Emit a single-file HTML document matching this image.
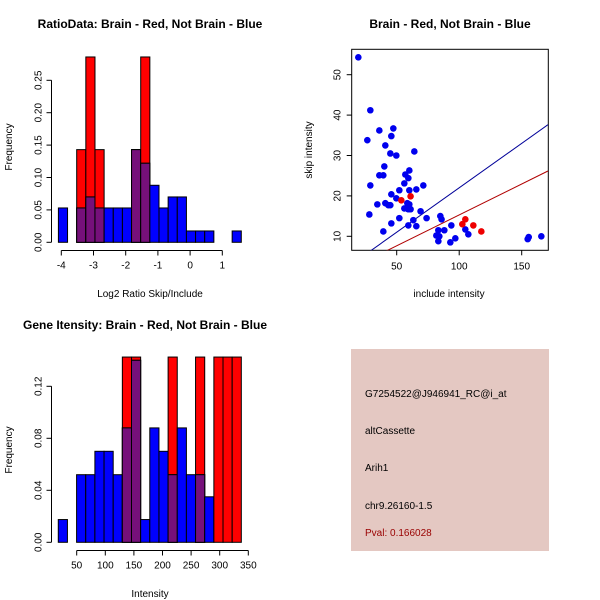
<!DOCTYPE html>
<html><head><meta charset="utf-8"><style>
body{margin:0;background:#fff;}
svg{display:block;font-family:"Liberation Sans",sans-serif;}
</style></head><body>
<svg id="s" width="600" height="600" xmlns="http://www.w3.org/2000/svg">
<rect width="600" height="600" fill="#fff"/>
<text x="150" y="28" font-size="12" font-weight="bold" text-anchor="middle">RatioData: Brain - Red, Not Brain - Blue</text>
<text x="450" y="28" font-size="12" font-weight="bold" text-anchor="middle">Brain - Red, Not Brain - Blue</text>
<text x="145" y="329" font-size="12" font-weight="bold" text-anchor="middle">Gene Itensity: Brain - Red, Not Brain - Blue</text>
<text x="150" y="297" font-size="10" text-anchor="middle">Log2 Ratio Skip/Include</text>
<text x="12" y="147" font-size="10" text-anchor="middle" transform="rotate(-90 12 147)">Frequency</text>
<text x="150" y="597" font-size="10" text-anchor="middle">Intensity</text>
<text x="12" y="450" font-size="10" text-anchor="middle" transform="rotate(-90 12 450)">Frequency</text>
<text x="449" y="297" font-size="10" text-anchor="middle">include intensity</text>
<text x="312" y="150" font-size="10" text-anchor="middle" transform="rotate(-90 312 150)">skip intensity</text>
<g>
<rect x="351" y="349" width="198" height="202" fill="#e4c8c2"/>
<text x="365" y="397" font-size="10">G7254522@J946941_RC@i_at</text>
<text x="365" y="434" font-size="10">altCassette</text>
<text x="365" y="471" font-size="10">Arih1</text>
<text x="365" y="509" font-size="10">chr9.26160-1.5</text>
<text x="365" y="536" font-size="10" fill="#990000">Pval: 0.166028</text>
</g>
</svg>
<script>
// Ratio histogram data
const ratioStart = -4.09, ratioWidth = 0.284;
const ratioBlue = [0.053,0,0.053,0.07,0.053,0.053,0.053,0.053,0.143,0.122,0.088,0.053,0.07,0.07,0.0175,0.0175,0.0175,0,0,0.0175];
const ratioRed  = [0,0,0.143,0.286,0.143,0,0,0,0.143,0.286,0,0,0,0,0,0,0,0,0,0];
const ratioXTicks = [-4,-3,-2,-1,0,1];
const ratioYTicks = ["0.00","0.05","0.10","0.15","0.20","0.25"];
// Intensity histogram data
const intStart = 17.8, intWidth = 16;
const intBlue = [0.0175,0,0.052,0.052,0.07,0.07,0.052,0.088,0.14,0.0175,0.088,0.07,0.052,0.088,0.052,0.052,0.035,0,0,0];
const intRed  = [0,0,0,0,0,0,0,0.1425,0.1425,0,0,0,0.1425,0,0,0.1425,0,0.1425,0.1425,0.1425];
const intXTicks = [50,100,150,200,250,300,350];
const intYTicks = ["0.00","0.04","0.08","0.12"];
// Scatter data
const blueX = [19.3,28.9,26.5,36.1,47.3,45.7,40.9,44.9,49.7,64.1,40.1,36.1,39.3,28.9,45.7,34.5,40.9,43.3,44.9,28.1,39.3,45.7,49.7,52.1,52.1,56.1,56.9,59.3,60.1,60.1,65.7,71.3,56.1,58.5,60.1,59.3,61.1,69.1,73.9,63.3,59.3,65.7,84.9,85.9,81.7,83.3,84.1,83.3,88.1,93.7,92.9,96.9,104.9,107.3,154.8,155.6,165.7];
const blueY = [54.3,41.2,33.8,36.2,36.7,34.8,32.5,30.5,30.0,31.0,27.3,25.1,25.1,22.6,20.4,17.9,18.2,17.7,17.7,15.4,11.2,13.2,19.4,21.4,14.5,23.1,25.3,24.4,26.3,21.4,21.6,22.6,16.9,18.2,17.9,16.7,16.7,16.2,14.5,14.0,12.7,12.5,15.0,14.2,10.2,11.5,10.0,8.8,11.5,12.7,8.5,9.5,11.7,10.5,9.3,9.8,10.0];
const redX = [53.7,61.1,104.9,102.5,111.3,117.7];
const redY = [18.9,19.9,14.2,13.0,12.7,11.2];
const lineSlopes = [0.22,0.153];
const scatXTicks = [50,100,150];
const scatYTicks = [10,20,30,40,50];

const NS = "http://www.w3.org/2000/svg";
const svg = document.getElementById('s');
function mk(tag, attrs, parent){const e=document.createElementNS(NS,tag);for(const k in attrs)e.setAttribute(k,attrs[k]);(parent||svg).appendChild(e);return e;}
function lin(d0,d1,p0,p1){return v=>p0+(v-d0)*(p1-p0)/(d1-d0);}

function hist(cfg){
  const g=mk('g',{});
  
  
  const n=cfg.blue.length;
  for(let i=0;i<n;i++){
    const x0=cfg.sx(cfg.start+i*cfg.w), x1=cfg.sx(cfg.start+(i+1)*cfg.w);
    const b=cfg.blue[i], r=cfg.red[i];
    if(r>0){
      const e=mk('rect',{x:x0,y:cfg.sy(r),width:x1-x0,height:cfg.sy(0)-cfg.sy(r),fill:'#ff0000',stroke:'#000','stroke-width':1},g);
      
      
    }
    if(b>0){
      const e=mk('rect',{x:x0,y:cfg.sy(b),width:x1-x0,height:cfg.sy(0)-cfg.sy(b),fill:'#0000ff',stroke:'#000','stroke-width':1},g);
      
      
    }
    const m=Math.min(b,r);
    if(m>0){
      const e=mk('rect',{x:x0,y:cfg.sy(m),width:x1-x0,height:cfg.sy(0)-cfg.sy(m),fill:'#76107a',stroke:'#000','stroke-width':1},g);
      
      
    }
  }
  const xa=mk('g',{stroke:'#000','stroke-width':1});
  
  
  const xt=cfg.xticks;
  mk('line',{x1:cfg.sx(xt[0]),x2:cfg.sx(xt[xt.length-1]),y1:cfg.xAxisY,y2:cfg.xAxisY},xa);
  xt.forEach(t=>{
    mk('line',{x1:cfg.sx(t),x2:cfg.sx(t),y1:cfg.xAxisY,y2:cfg.xAxisY+5},xa);
    const tx=mk('text',{x:cfg.sx(t),y:cfg.xAxisY+18,'font-size':10,'text-anchor':'middle',stroke:'none'},xa);
    tx.textContent=t;
  });
  const ya=mk('g',{stroke:'#000','stroke-width':1});
  
  
  const yt=cfg.yticks;
  mk('line',{x1:cfg.yAxisX,x2:cfg.yAxisX,y1:cfg.sy(+yt[0]),y2:cfg.sy(+yt[yt.length-1])},ya);
  yt.forEach(t=>{
    const y=cfg.sy(+t);
    mk('line',{x1:cfg.yAxisX,x2:cfg.yAxisX-5,y1:y,y2:y},ya);
    const tx=mk('text',{x:cfg.yAxisX-10,y:y,'font-size':10,'text-anchor':'middle',stroke:'none',transform:`rotate(-90 ${cfg.yAxisX-10} ${y})`},ya);
    tx.textContent=t;
  });
}

hist({name:'ratio-histogram',start:ratioStart,w:ratioWidth,blue:ratioBlue,red:ratioRed,
  sx:lin(-4,1,61.3,222.3),sy:lin(0,0.25,242.3,80.3),xticks:ratioXTicks,yticks:ratioYTicks,xAxisY:250.5,yAxisX:51.5});
hist({name:'intensity-histogram',start:intStart,w:intWidth,blue:intBlue,red:intRed,
  sx:lin(50,350,76.7,248.3),sy:lin(0,0.12,542.3,386.3),xticks:intXTicks,yticks:intYTicks,xAxisY:550.5,yAxisX:51.5});

const sx=lin(50,150,396.7,521.7), sy=lin(10,50,236.3,74.7);
const L=351.7,R=548.3,T=49.3,B=250.3;
const sg=mk('g',{});


const box=mk('rect',{x:L,y:T,width:R-L,height:B-T,fill:'none',stroke:'#000'},sg);


const cp=mk('clipPath',{id:'cp'},sg); mk('rect',{x:L,y:T,width:R-L,height:B-T},cp);
const xmin=14,xmax=171;
['#000099','#b00000'].forEach((c,i)=>{
  const ln=mk('line',{x1:sx(xmin),y1:sy(lineSlopes[i]*xmin),x2:sx(xmax),y2:sy(lineSlopes[i]*xmax),stroke:c,'stroke-width':1,'clip-path':'url(#cp)'},sg);
  
  
});
blueX.forEach((x,i)=>{
  const c=mk('circle',{cx:sx(x),cy:sy(blueY[i]),r:3.3,fill:'#0000ee'},sg);
  
  
});
redX.forEach((x,i)=>{
  const c=mk('circle',{cx:sx(x),cy:sy(redY[i]),r:3.3,fill:'#ee0000'},sg);
  
  
});
const sxa=mk('g',{stroke:'#000'});


scatXTicks.forEach(t=>{
  mk('line',{x1:sx(t),x2:sx(t),y1:B,y2:B+5},sxa);
  const tx=mk('text',{x:sx(t),y:B+19,'font-size':10,'text-anchor':'middle',stroke:'none'},sxa);
  tx.textContent=t;
});
const sya=mk('g',{stroke:'#000'});


scatYTicks.forEach(t=>{
  const y=sy(t);
  mk('line',{x1:L,x2:L-5,y1:y,y2:y},sya);
  const tx=mk('text',{x:L-11,y:y,'font-size':10,'text-anchor':'middle',stroke:'none',transform:`rotate(-90 ${L-11} ${y})`},sya);
  tx.textContent=t;
});
</script>
</body></html>
